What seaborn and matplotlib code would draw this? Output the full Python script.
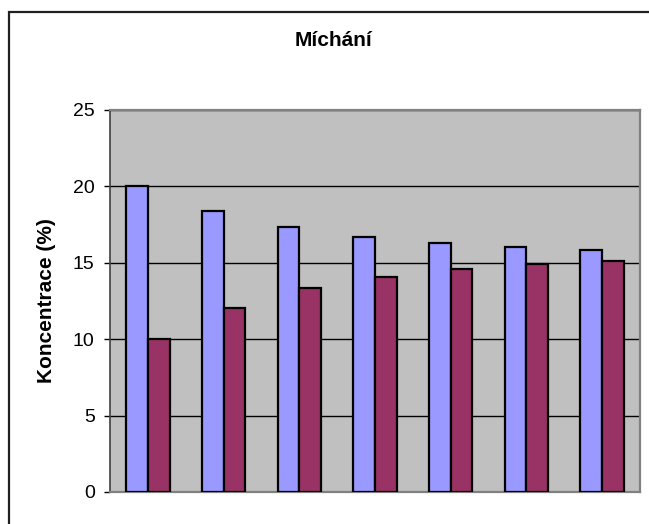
import matplotlib
matplotlib.use("Agg")
import matplotlib.pyplot as plt
from matplotlib.patches import Rectangle
import seaborn as sns
import pandas as pd

# Mixing experiment: concentration in the two vessels after each step
steps = [1, 2, 3, 4, 5, 6, 7]
vessel_a = [20.0, 18.4, 17.35, 16.7, 16.27, 16.05, 15.85]
vessel_b = [10.0, 12.05, 13.34, 14.1, 14.6, 14.93, 15.15]
series_names = ["A", "B"]
y_ticks = [0, 5, 10, 15, 20, 25]

df = pd.DataFrame({
    "krok": steps * 2,
    "koncentrace": vessel_a + vessel_b,
    "serie": [series_names[0]] * len(steps) + [series_names[1]] * len(steps),
})

sns.set_theme(style="white")
plt.rcParams["font.family"] = ["Liberation Sans", "DejaVu Sans"]
plt.rcParams["text.color"] = "black"
plt.rcParams["axes.labelcolor"] = "black"
plt.rcParams["ytick.color"] = "black"

W, H = 649, 524
fig = plt.figure(figsize=(W / 100, H / 100), dpi=100)
fig.patch.set_facecolor("white")

left, right, top, bottom = 110, 640, 110, 492
ax = fig.add_axes([left / W, 1 - bottom / H, (right - left) / W, (bottom - top) / H])
ax.set_facecolor("#C0C0C0")

sns.barplot(
    data=df, x="krok", y="koncentrace", hue="serie",
    palette=["#9999FF", "#993366"], width=0.575, gap=0,
    edgecolor="black", linewidth=1.6, saturation=1,
    legend=False, ax=ax, zorder=3,
)

ax.set_ylim(0, 25)
ax.set_xlim(-0.5, len(steps) - 0.5)
ax.set_yticks(y_ticks)
ax.set_yticklabels([str(t) for t in y_ticks], fontsize=14)
ax.set_xticks([])
ax.set_xlabel("")
ax.set_ylabel("Koncentrace (%)", fontsize=15, fontweight="bold", labelpad=12)
ax.tick_params(axis="y", direction="out", length=4, width=1, color="black",
               left=True, pad=7)

ax.yaxis.grid(True, color="black", linewidth=1.0, zorder=1)
ax.set_axisbelow(True)

for name, sp in ax.spines.items():
    sp.set_visible(True)
    sp.set_color("#808080")
    sp.set_linewidth(1.6)
ax.spines["left"].set_color("#404040")
ax.spines["left"].set_linewidth(1.2)

fig.text(333 / W, 1 - 41 / H, "Míchání", ha="center", va="center",
         fontsize=15, fontweight="bold")

# chart frame
fig.add_artist(Rectangle((8.5 / W, -0.2), 2.0, 1 - 11.5 / H + 0.2,
                         transform=fig.transFigure, fill=False,
                         edgecolor="#202020", linewidth=1.6))

fig.savefig("out.png", dpi=100)
